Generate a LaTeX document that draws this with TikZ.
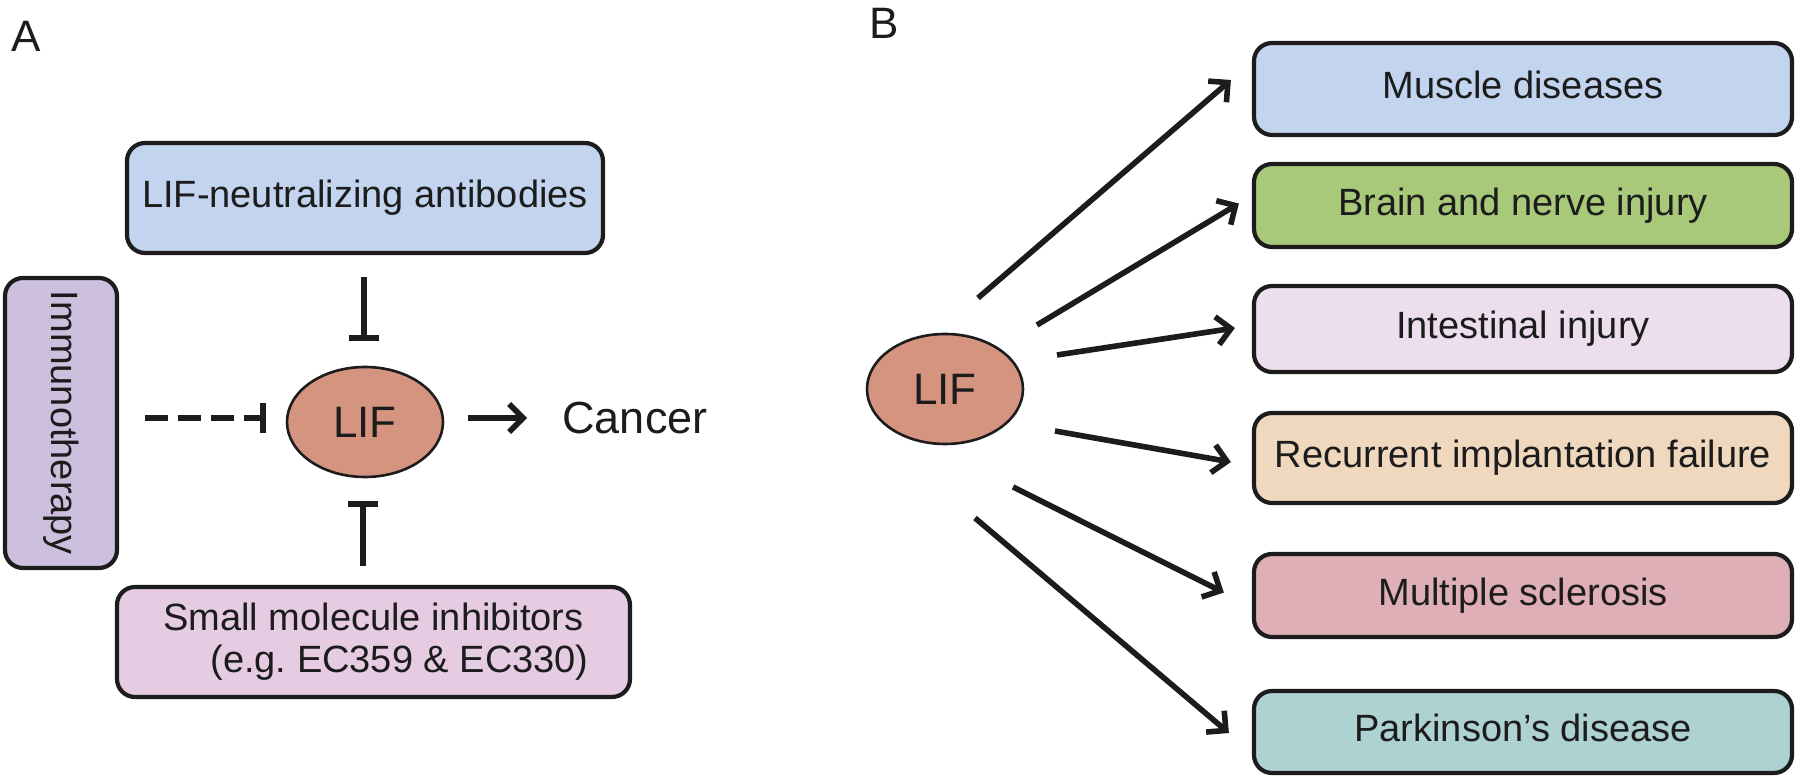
\documentclass[tikz,border=0pt]{standalone}
\usepackage{fontspec}
\setmainfont{Liberation Sans}
\usepackage{tikz}
\usetikzlibrary{arrows.meta,shapes.geometric}

\definecolor{ink}{HTML}{1C1C1C}
\definecolor{boxblue}{HTML}{C3D4EF}
\definecolor{boxpurple}{HTML}{CDC0DE}
\definecolor{boxpink}{HTML}{E6CCE3}
\definecolor{lifred}{HTML}{D5947F}
\definecolor{boxgreen}{HTML}{A9C97A}
\definecolor{boxlilac}{HTML}{EDDEEE}
\definecolor{boxpeach}{HTML}{F0D8BF}
\definecolor{boxrose}{HTML}{DFAFB8}
\definecolor{boxteal}{HTML}{AED1D2}

\begin{document}
\begin{tikzpicture}[x=0.5pt,y=0.5pt,yscale=-1,
  box/.style={draw=ink,line width=2.1pt,rounded corners=9pt,inner sep=0pt,text=ink,font=\fontsize{19}{23}\selectfont},
  oneline/.style={text height=14pt,text depth=4pt},
  lif/.style={ellipse,draw=ink,line width=1.3pt,fill=lifred,minimum width=78pt,minimum height=55pt,inner sep=0pt,text=ink,font=\fontsize{22}{26}\selectfont},
  inh/.style={draw=ink,line width=2.8pt,-{Bar[width=15pt]}},
  act/.style={draw=ink,line width=2.8pt,-{Straight Barb[length=7pt,width=14pt]}},
  panel/.style={font=\fontsize{22}{26}\selectfont,text=ink,inner sep=0pt}]
\useasboundingbox (0,0) rectangle (1800,779);

% Text Node
\node[panel] (labA) at (26,36) {A};
% Text Node
\node[panel] (labB) at (884,23) {B};

%Panel A
\node[box,oneline,fill=boxblue,minimum width=238pt,minimum height=55pt] (anti) at (365,198) {LIF-neutralizing antibodies};
\node[box,oneline,fill=boxpurple,rotate=-90,minimum width=145pt,minimum height=56pt] (immu) at (61,423) {Immunotherapy};
\node[box,fill=boxpink,font=\fontsize{19}{21}\selectfont,minimum width=256.5pt,minimum height=55pt,align=center] (small) at (373.5,642) {Small molecule inhibitors\\\hspace*{26pt}(e.g.\ EC359 \& EC330)};
\node[lif] (lifA) at (365,422) {LIF};
\node[panel,font=\fontsize{22.5}{26}\selectfont] (cancer) at (635,418) {Cancer};
\coordinate (smtop) at (lifA.south |- small.north);

%Straight Lines
\draw[inh] ([shift={(-1,22)}]anti.south) -- ([shift={(-1,-25)}]lifA.north);
\draw[inh] ([shift={(-2,-19)}]smtop) -- ([shift={(-2,23)}]lifA.south);
\draw[inh,dash pattern=on 11.5pt off 5pt] ([shift={(84,-5)}]immu.center) -- ([shift={(-20,-4)}]lifA.west);
\draw[act] ([shift={(24,-4)}]lifA.east) -- ([shift={(-35,0)}]cancer.west);

%Panel B
\node[lif] (lifB) at (945,389) {LIF};
\node[box,oneline,fill=boxblue,minimum width=269pt,minimum height=46pt] (mus) at (1523,89) {Muscle diseases};
\node[box,oneline,fill=boxgreen,minimum width=269pt,minimum height=41.5pt] (brain) at (1523,205.5) {Brain and nerve injury};
\node[box,oneline,fill=boxlilac,minimum width=269pt,minimum height=43pt] (intest) at (1523,329) {Intestinal injury};
\node[box,oneline,fill=boxpeach,minimum width=269pt,minimum height=45pt] (rif) at (1523,458) {Recurrent implantation failure};
\node[box,oneline,fill=boxrose,minimum width=269pt,minimum height=41.5pt] (ms) at (1523,595.5) {Multiple sclerosis};
\node[box,oneline,fill=boxteal,minimum width=269pt,minimum height=41pt] (park) at (1523,732) {Parkinson’s disease};

%Straight Lines
\draw[act] ([shift={(33,-91)}]lifB.center) -- ([shift={(-21,-9)}]mus.west);
\draw[act] ([shift={(92,-64)}]lifB.center) -- ([shift={(-13,-2)}]brain.west);
\draw[act] ([shift={(112,-34)}]lifB.center) -- ([shift={(-17,-1)}]intest.west);
\draw[act] ([shift={(110,42)}]lifB.center) -- ([shift={(-21,4)}]rif.west);
\draw[act] ([shift={(68,98)}]lifB.center) -- ([shift={(-28,-3)}]ms.west);
\draw[act] ([shift={(30,129)}]lifB.center) -- ([shift={(-23,1)}]park.west);

\end{tikzpicture}
\end{document}
